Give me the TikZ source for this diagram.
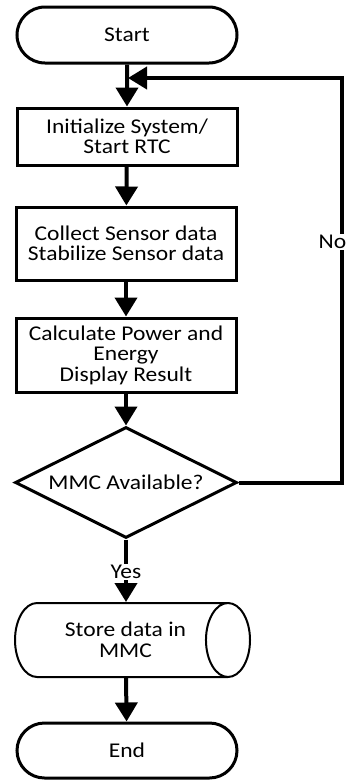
\documentclass[tikz,border=0pt]{standalone}
\usepackage{fontspec}
\setmainfont{Carlito}[FakeStretch=1.12]
\usetikzlibrary{shapes.geometric,shapes.misc,arrows.meta}

\tikzset{
  txt/.style={font=\fontsize{21}{20.5}\selectfont, align=center, text=black},
  terminal/.style={txt, rounded rectangle, draw, line width=3pt,
    minimum width=220pt, minimum height=56pt, inner sep=0pt},
  process/.style={txt, rectangle, draw, line width=3pt,
    minimum width=220pt, inner sep=0pt},
  decision/.style={txt, diamond, draw, line width=3pt, shape aspect=2,
    minimum width=222pt, minimum height=111pt, inner sep=0pt},
  storage/.style={txt, cylinder, draw, line width=2pt, aspect=1.25,
    minimum width=74pt, minimum height=235pt, inner sep=0pt},
  flow/.style={line width=4pt, -{Triangle[length=19pt,width=22pt]}},
  plain/.style={line width=4pt},
  lbl/.style={txt, fill=white, inner sep=1pt}
}

\begin{document}
\begin{tikzpicture}[x=1pt,y=-1pt]
  \useasboundingbox (0,0) rectangle (348,780);

  % flowchart blocks
  \node[terminal] (start) at (127,35) {Start};
  \node[process, minimum height=57pt] (init) at (127,136.5) {Initialize System/\\Start RTC};
  \node[process, minimum height=73pt] (collect) at (126,243.5) {Collect Sensor data\\Stabilize Sensor data};
  \node[process, minimum height=74pt] (calc) at (126,355) {Calculate Power and\\Energy\\Display Result};
  \node[decision] (mmc) at (126,482.5) {MMC Available?};
  \node[storage] (store) at (121,640) {\hspace*{9pt}Store data in\\\hspace*{9pt}MMC};
  \node[terminal, minimum height=55pt] (end) at (127,750.5) {End};

  % main sequence
  \draw[flow] (start) -- (init);
  \draw[flow] (init) -- (collect);
  \draw[flow] (collect) -- (calc);
  \draw[flow] (calc) -- (mmc);

  % Yes branch
  \node[lbl] (yes) at (126,572) {Yes};
  \draw[plain] (mmc.south) -- (yes.north);
  \draw[flow] (yes.south) -- (store.north -| yes.south);
  \draw[flow] (store.south -| yes.south) -- (end);

  % No branch loops back above the initialisation step
  \coordinate (rejoin) at (128,78);
  \draw[flow] (mmc.east) -- ++(103,0) |- (rejoin);
  \node[lbl, anchor=east] (no) at (347.5,242) {No};
\end{tikzpicture}
\end{document}
